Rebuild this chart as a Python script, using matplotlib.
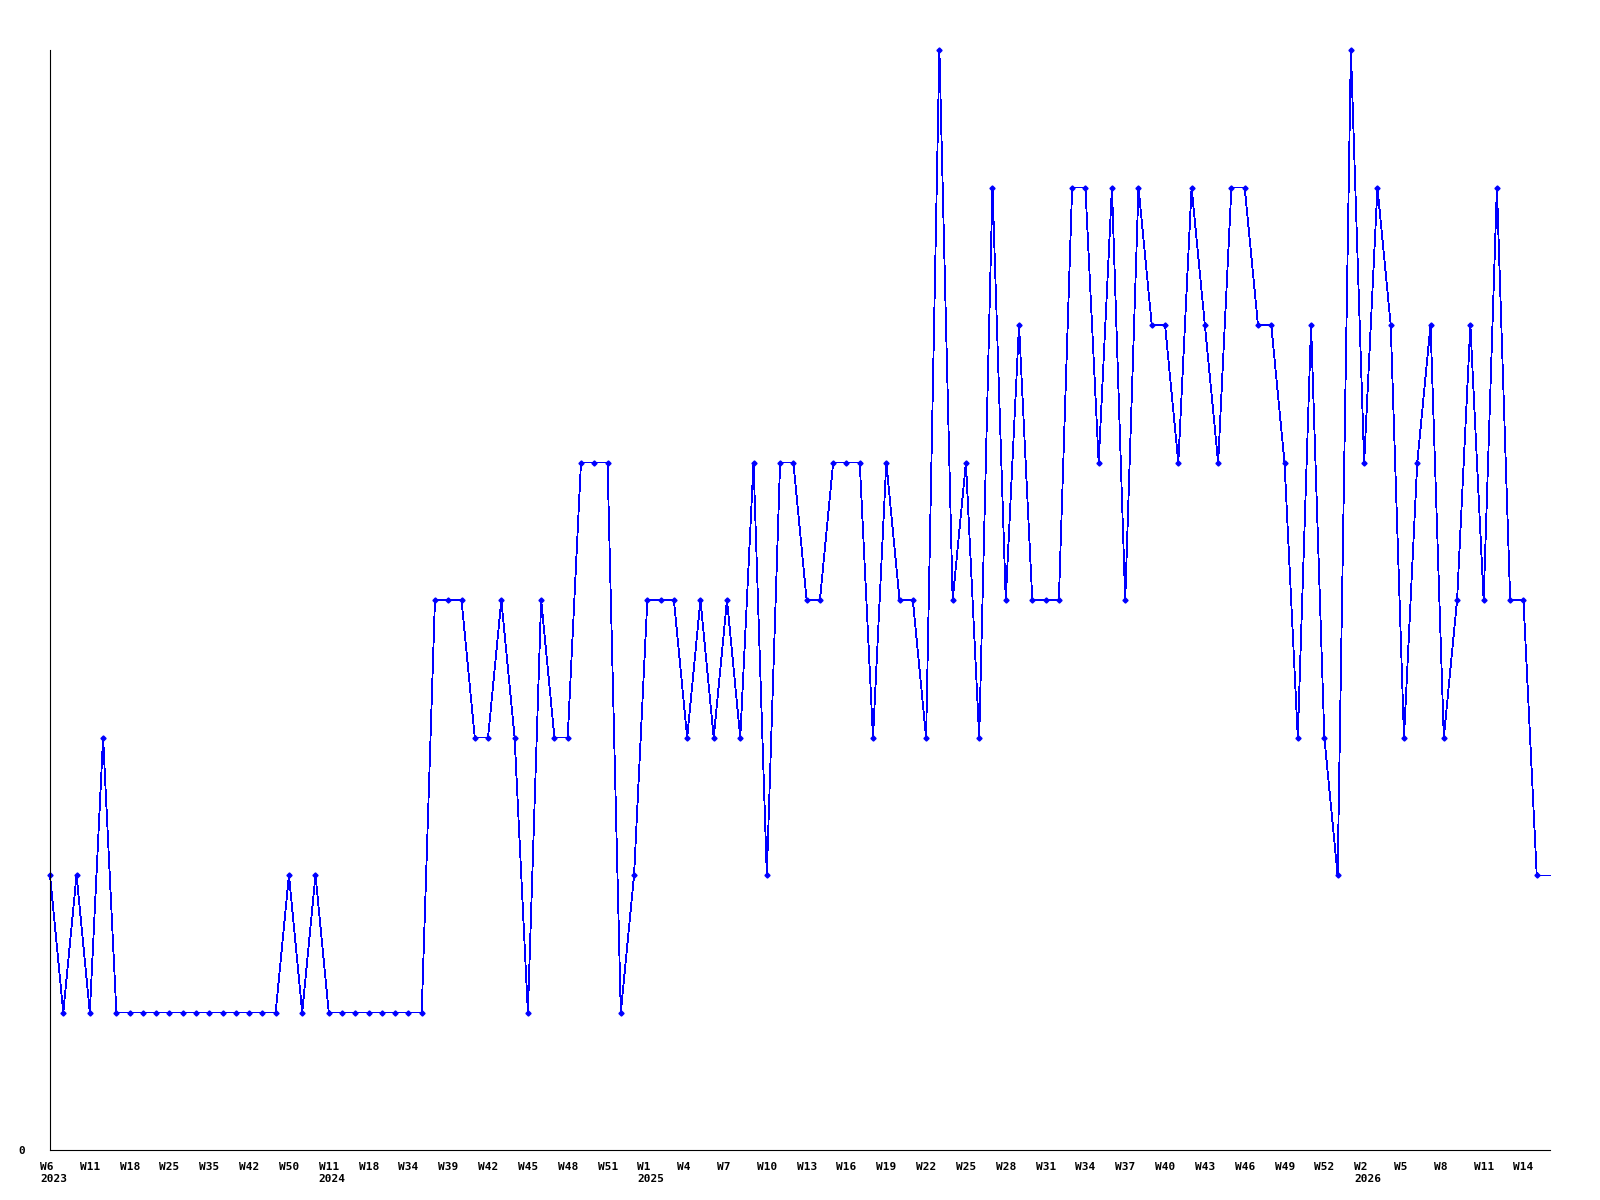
import matplotlib
matplotlib.use("Agg")
import matplotlib.pyplot as plt
from matplotlib.transforms import ScaledTranslation

# weekly counts, one point per plotted week
values = [2, 1, 2, 1, 3,
          1, 1, 1, 1, 1, 1, 1, 1, 1, 1, 1, 1, 1,
          2, 1, 2,
          1, 1, 1, 1, 1, 1, 1, 1,
          4, 4, 4, 3, 3, 4, 3, 1, 4, 3, 3, 5, 5, 5, 1, 2, 4, 4, 4, 3,
          4, 3, 4, 3, 5, 2, 5, 5,
          4, 4, 5, 5, 5, 3, 5, 4, 4, 3, 8, 4, 5, 3, 7, 4, 6, 4, 4, 4,
          7, 7, 5, 7, 4, 7, 6, 6, 5, 7,
          6, 5, 7, 7, 6, 6, 5, 3, 6, 3, 2, 8, 5, 7, 6, 3, 5, 6, 3, 4,
          6, 4, 7, 4, 4, 2]

# every third point gets a week label
week_labels = ["W6", "W11", "W18", "W25", "W35", "W42", "W50", "W11", "W18",
               "W34", "W39", "W42", "W45", "W48", "W51", "W1", "W4", "W7",
               "W10", "W13", "W16", "W19", "W22", "W25", "W28", "W31", "W34",
               "W37", "W40", "W43", "W46", "W49", "W52", "W2", "W5", "W8",
               "W11", "W14"]
year_marks = {0: "2023", 7: "2024", 15: "2025", 33: "2026"}

n = len(values)
x = list(range(n))

fig = plt.figure(figsize=(16, 12), dpi=100)
ax = fig.add_axes([50 / 1600, 50 / 1200, 1500 / 1600, 1100 / 1200])

ax.plot(x, values, color="#0000ff", lw=0.6, marker="D", ms=2.6,
        mec="#0000ff", mfc="#0000ff", clip_on=False, antialiased=False)
# last value carries on to the end of the axis
ax.plot([n - 1, n], [values[-1], values[-1]], color="#0000ff", lw=0.6,
        clip_on=False, antialiased=False)

ax.set_xlim(0, n)
ax.set_ylim(0, max(values))

for side in ("top", "right"):
    ax.spines[side].set_visible(False)
for side in ("left", "bottom"):
    ax.spines[side].set_linewidth(0.8)
    ax.spines[side].set_color("black")

font = dict(family="DejaVu Sans Mono", weight="bold", size=8)

ticks = list(range(0, n, 3))[:len(week_labels)]
labels = []
for k, w in enumerate(week_labels):
    labels.append(w + ("\n" + year_marks[k] if k in year_marks else ""))
ax.set_xticks(ticks)
ax.set_xticklabels(labels, fontdict=font, ha="left", va="top",
                   multialignment="left")
ax.tick_params(axis="x", length=0, pad=9)
shift = ScaledTranslation(-10 / 100, 0, fig.dpi_scale_trans)
for lab in ax.get_xticklabels():
    lab.set_transform(lab.get_transform() + shift)

ax.set_yticks([0])
ax.set_yticklabels(["0"], fontdict=font)
ax.tick_params(axis="y", length=0, pad=18)

fig.savefig("out.png", dpi=100, facecolor="white")
